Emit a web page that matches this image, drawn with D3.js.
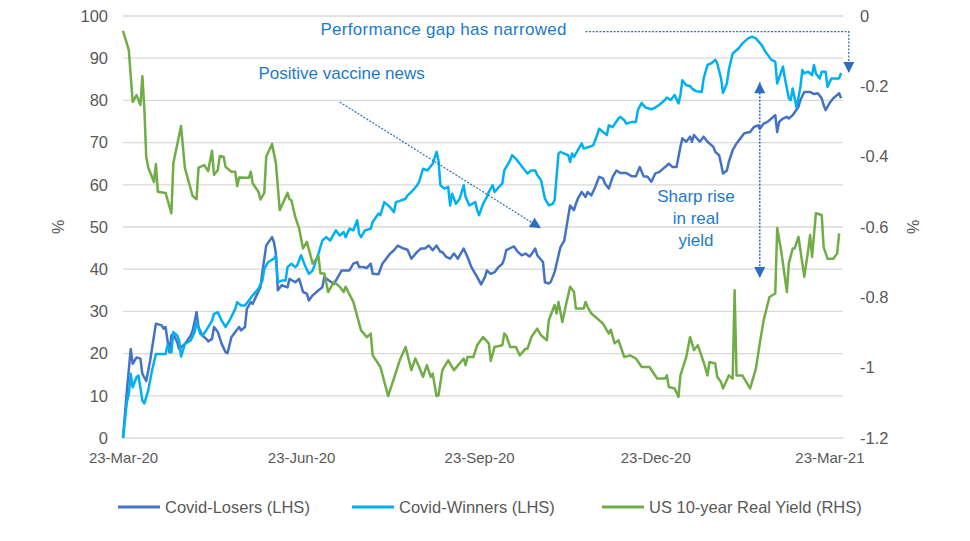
<!DOCTYPE html>
<html><head><meta charset="utf-8">
<script src="https://cdn.jsdelivr.net/npm/d3@7/dist/d3.min.js"></script>
<style>
html,body{margin:0;padding:0;background:#fff;}
svg{display:block;font-family:"Liberation Sans",Arial,sans-serif;}
</style></head>
<body>
<svg id="chart" width="970" height="541"></svg>
<script>
// ---- DATA (x = days since 23-Mar-20) ----
const startDate = "2020-03-23";
const xTickLabels = ["23-Mar-20","23-Jun-20","23-Sep-20","23-Dec-20","23-Mar-21"];
const leftTicks = [0,10,20,30,40,50,60,70,80,90,100];
const rightTicks = [-1.2,-1,-0.8,-0.6,-0.4,-0.2,0];
const seriesNames = ["Covid-Losers (LHS)","Covid-Winners (LHS)","US 10-year Real Yield (RHS)"];

const covidLosers = [[0,0],[2,11.2],[4,21.1],[5,17.6],[7,19.1],[9,18.8],[10,15.2],[12,13.5],[14,18.3],[17,27.1],[20,26.7],[21,25.9],[22,26.3],[23,23.1],[24,20.3],[25,24.3],[26,24.7],[28,22.7],[29,21.1],[32,22.3],[35,24.3],[36,25.5],[38,29.8],[39,26.3],[41,24.3],[43,23.5],[44,22.9],[46,23.5],[47,26.3],[49,25.1],[51,22.3],[53,20.3],[54,20.1],[56,23.9],[58,25.1],[60,26.3],[61,25.5],[63,26.3],[64,30.6],[66,32.2],[67,31.8],[69,33.8],[71,35.7],[72,39.3],[74,45.6],[77,47.6],[78,46.4],[79,43.7],[80,35.0],[82,36.2],[85,35.7],[86,37.7],[89,36.9],[91,37.7],[92,36.2],[93,34.6],[95,34.2],[96,32.6],[98,33.8],[101,35.0],[103,35.7],[104,38.1],[109,36.5],[113,39.7],[117,39.7],[119,41.3],[121,41.7],[122,40.5],[124,40.5],[126,40.3],[128,41.3],[129,38.9],[132,38.8],[134,41.3],[136,42.5],[138,43.7],[140,44.5],[142,45.6],[145,44.9],[147,44.6],[149,42.5],[152,44.1],[154,44.9],[156,44.9],[158,45.6],[160,44.5],[162,45.6],[164,44.1],[165,44.1],[167,42.9],[169,42.5],[171,43.7],[173,42.5],[176,44.9],[178,42.9],[180,40.5],[183,38.1],[185,36.4],[187,38.1],[188,39.7],[190,38.9],[192,39.3],[194,40.5],[196,41.3],[197,42.5],[198,44.5],[201,45.2],[202,45.4],[204,44.1],[206,43.3],[208,43.7],[210,43.0],[211,43.5],[213,44.9],[214,43.3],[217,41.7],[218,36.9],[220,36.6],[221,37.0],[223,39.3],[224,41.3],[226,45.2],[227,46.0],[228,46.8],[230,52.4],[231,55.1],[233,54.0],[234,55.5],[235,56.7],[237,58.3],[239,57.1],[240,58.3],[242,57.5],[244,59.5],[246,61.9],[248,61.5],[249,60.3],[251,59.1],[253,61.9],[255,63.4],[257,62.8],[260,62.8],[263,62.0],[265,62.0],[267,64.2],[269,62.0],[271,61.9],[273,60.7],[275,62.7],[277,63.0],[280,64.2],[282,65.0],[284,64.2],[286,64.2],[288,69.0],[289,71.0],[291,70.2],[293,71.4],[294,70.2],[295,71.8],[298,70.2],[300,71.4],[302,70.2],[305,69.0],[306,67.8],[308,67.0],[309,65.0],[310,62.7],[312,63.4],[313,65.4],[315,68.2],[317,69.8],[319,71.0],[321,72.2],[324,72.5],[326,73.7],[328,74.1],[329,73.3],[331,74.5],[333,74.9],[335,75.7],[337,76.5],[338,72.5],[339,74.9],[341,75.7],[343,76.1],[344,75.7],[346,76.5],[349,78.5],[350,80.1],[352,82.0],[355,82.0],[357,81.5],[359,81.7],[361,80.5],[362,78.9],[363,77.7],[365,79.3],[367,80.5],[368,80.9],[370,81.7],[371,80.5]];

const covidWinners = [[0,0],[2,8.5],[3,10.4],[4,15.2],[5,12.0],[7,14.4],[8,14.8],[10,8.9],[11,8.2],[13,11.2],[15,16.0],[17,19.9],[22,19.9],[23,21.9],[25,20.3],[26,25.1],[28,24.3],[29,23.1],[30,19.3],[32,22.3],[35,23.1],[37,25.1],[38,27.4],[40,24.7],[41,24.3],[43,25.5],[46,27.8],[47,29.4],[49,29.8],[51,27.8],[53,26.3],[55,27.8],[58,30.6],[59,32.2],[61,31.4],[63,31.4],[65,32.6],[67,33.8],[70,35.4],[72,37.3],[73,40.1],[75,41.7],[78,42.5],[79,43.3],[80,36.9],[82,37.3],[84,37.3],[85,40.5],[87,41.3],[89,40.5],[90,40.9],[92,43.3],[94,40.9],[96,38.9],[98,39.7],[101,43.7],[103,46.8],[105,47.6],[107,46.8],[110,49.2],[112,48.0],[114,48.8],[115,47.6],[117,49.6],[119,49.2],[121,51.6],[122,48.4],[123,47.6],[125,49.2],[128,49.6],[129,51.2],[132,53.2],[133,52.8],[135,55.9],[138,54.7],[140,53.5],[141,55.9],[143,56.2],[146,56.7],[147,57.5],[149,58.3],[152,59.9],[153,60.7],[155,63.8],[157,63.4],[158,63.8],[160,65.0],[162,67.8],[163,65.8],[164,59.9],[166,59.1],[168,59.5],[169,55.1],[170,57.9],[172,55.5],[174,56.7],[176,59.9],[177,57.1],[179,55.1],[182,55.9],[183,54.0],[184,52.8],[186,55.5],[188,57.1],[189,58.3],[191,59.9],[192,58.3],[195,59.9],[196,60.3],[197,63.4],[200,65.8],[201,67.0],[203,66.2],[205,65.0],[207,63.8],[209,62.7],[211,63.4],[213,63.4],[214,62.3],[216,61.1],[218,56.7],[220,55.1],[222,55.5],[223,56.3],[225,67.4],[226,67.8],[228,67.4],[230,67.0],[231,65.4],[232,67.4],[233,66.6],[235,68.2],[237,69.8],[238,68.6],[241,69.0],[243,69.4],[245,71.8],[246,73.3],[248,72.5],[250,71.8],[251,74.1],[253,73.7],[256,75.7],[257,76.1],[259,75.3],[260,74.5],[263,74.9],[265,74.9],[266,77.7],[268,79.4],[270,78.3],[273,77.9],[275,78.3],[277,78.9],[280,80.1],[281,80.7],[283,80.1],[285,81.3],[287,79.3],[288,81.3],[289,84.8],[291,83.6],[293,83.4],[294,82.8],[296,82.2],[299,82.0],[300,85.2],[302,88.4],[304,88.8],[306,89.6],[307,88.8],[309,85.2],[310,81.8],[312,84.0],[313,87.2],[315,91.1],[318,92.3],[320,93.5],[323,94.7],[325,95.1],[327,94.7],[330,93.1],[332,91.5],[335,89.6],[337,89.2],[338,84.0],[341,88.0],[342,85.2],[344,80.5],[345,80.1],[346,82.8],[348,78.3],[350,83.2],[351,87.2],[352,86.4],[354,86.8],[356,86.0],[357,88.4],[358,86.4],[360,85.2],[361,86.8],[363,86.8],[364,83.2],[366,85.2],[368,85.2],[370,85.2],[371,86.5]];

const realYield = [[0,-0.042],[3,-0.097],[5,-0.244],[7,-0.225],[9,-0.253],[10,-0.171],[11,-0.259],[12,-0.400],[13,-0.430],[16,-0.472],[17,-0.421],[18,-0.500],[22,-0.503],[25,-0.561],[26,-0.419],[30,-0.313],[32,-0.433],[36,-0.512],[38,-0.521],[39,-0.431],[42,-0.424],[44,-0.441],[46,-0.383],[47,-0.452],[49,-0.438],[50,-0.398],[52,-0.400],[53,-0.429],[56,-0.443],[58,-0.443],[59,-0.484],[60,-0.459],[65,-0.460],[66,-0.443],[67,-0.476],[70,-0.500],[71,-0.522],[73,-0.503],[74,-0.400],[77,-0.364],[79,-0.419],[81,-0.552],[85,-0.503],[86,-0.521],[87,-0.524],[89,-0.571],[91,-0.604],[93,-0.661],[95,-0.642],[98,-0.704],[101,-0.683],[102,-0.732],[104,-0.732],[106,-0.785],[109,-0.756],[112,-0.770],[114,-0.785],[115,-0.770],[119,-0.813],[123,-0.894],[126,-0.913],[128,-0.903],[129,-0.965],[133,-0.998],[137,-1.081],[143,-0.979],[146,-0.941],[149,-1.007],[151,-0.974],[153,-0.998],[155,-1.026],[157,-0.993],[159,-1.026],[160,-1.017],[162,-1.081],[163,-1.079],[165,-1.007],[168,-0.979],[171,-1.007],[176,-0.974],[177,-0.993],[178,-0.970],[181,-0.970],[183,-0.936],[186,-0.913],[189,-0.931],[190,-0.981],[192,-0.941],[196,-0.936],[197,-0.903],[198,-0.908],[200,-0.941],[203,-0.941],[205,-0.965],[208,-0.946],[209,-0.946],[211,-0.913],[214,-0.889],[216,-0.908],[219,-0.922],[220,-0.865],[223,-0.822],[224,-0.846],[225,-0.813],[227,-0.870],[229,-0.818],[231,-0.770],[233,-0.785],[234,-0.832],[238,-0.832],[239,-0.813],[240,-0.827],[242,-0.846],[245,-0.860],[248,-0.875],[251,-0.903],[252,-0.892],[254,-0.931],[256,-0.922],[259,-0.970],[262,-0.965],[265,-0.974],[268,-0.998],[272,-0.998],[276,-1.031],[280,-1.031],[281,-1.022],[282,-1.055],[285,-1.059],[287,-1.083],[288,-1.022],[291,-0.970],[293,-0.913],[295,-0.950],[297,-0.936],[300,-0.984],[302,-1.022],[303,-0.984],[306,-0.988],[307,-1.026],[309,-1.041],[310,-1.059],[313,-1.022],[315,-1.031],[316,-0.780],[317,-1.022],[320,-1.022],[324,-1.059],[327,-1.003],[329,-0.931],[331,-0.865],[334,-0.799],[337,-0.789],[338,-0.603],[340,-0.666],[341,-0.704],[343,-0.785],[344,-0.704],[346,-0.661],[347,-0.661],[349,-0.628],[350,-0.666],[352,-0.742],[354,-0.666],[355,-0.623],[356,-0.685],[358,-0.561],[361,-0.566],[362,-0.657],[364,-0.690],[367,-0.690],[369,-0.675],[370,-0.618]];

// annotation texts
const annoTexts = ["Performance gap has narrowed","Positive vaccine news",["Sharp rise","in real","yield"]];

// ---- CHART ----
const svg = d3.select("#chart");
const W = 970, H = 541;
const m = {left:123, right:127, top:16, bottom:103};
const x0 = m.left, x1 = W - m.right, y0 = m.top, y1 = H - m.bottom;
const parse = d3.timeParse("%Y-%m-%d");
const t0 = parse(startDate);
const dayToDate = d => d3.timeDay.offset(t0, d);
const x = d3.scaleTime().domain([t0, d3.timeDay.offset(t0, 372)]).range([x0, x1]);
const yL = d3.scaleLinear().domain([0,100]).range([y1, y0]);
const yR = d3.scaleLinear().domain([-1.2,0]).range([y1, y0]);

const gray = "#595959";
const colors = ["#4472C4","#00B0F0","#70AD47"];
const annoTextColor = "#1C7ACB";
const annoLineColor = "#2A6DC0";
const FONT = '"Liberation Sans",Arial,sans-serif';

svg.append("rect").attr("width",W).attr("height",H).attr("fill","#fff");

// gridlines
svg.append("g").selectAll("line").data(leftTicks).join("line")
  .attr("x1",x0).attr("x2",x1)
  .attr("y1",d=>yL(d)).attr("y2",d=>yL(d))
  .attr("stroke","#d9d9d9").attr("stroke-width",1.3);

// left axis
const axL = d3.axisLeft(yL).tickValues(leftTicks).tickSize(0).tickPadding(15).tickFormat(d3.format("d"));
const gL = svg.append("g").attr("transform",`translate(${x0},0)`).call(axL);
gL.select(".domain").remove();
gL.selectAll("text").attr("fill",gray).style("font-size","16.5px").style("font-family",FONT);

// right axis
const axR = d3.axisRight(yR).tickValues(rightTicks).tickSize(0).tickPadding(17).tickFormat(d=>String(+d.toFixed(1)));
const gR = svg.append("g").attr("transform",`translate(${x1},0)`).call(axR);
gR.select(".domain").remove();
gR.selectAll("text").attr("fill",gray).style("font-size","16.5px").style("font-family",FONT);

// bottom axis
const xTickDates = xTickLabels.map(s => d3.timeParse("%d-%b-%y")(s));
const axB = d3.axisBottom(x).tickValues(xTickDates).tickSize(0).tickPadding(14).tickFormat(d3.timeFormat("%d-%b-%y"));
const gB = svg.append("g").attr("transform",`translate(0,${y1})`).call(axB);
gB.select(".domain").remove();
gB.selectAll("text").attr("fill",gray).style("font-size","15px").style("font-family",FONT);

// axis titles
svg.append("text").attr("transform",`translate(64,${(y0+y1)/2}) rotate(-90)`)
  .attr("text-anchor","middle").attr("fill",gray).style("font-size","16px").text("%");
svg.append("text").attr("transform",`translate(919,${(y0+y1)/2}) rotate(-90)`)
  .attr("text-anchor","middle").attr("fill",gray).style("font-size","16px").text("%");

// lines
const lineL = d3.line().x(d=>x(dayToDate(d[0]))).y(d=>yL(d[1]));
const lineR = d3.line().x(d=>x(dayToDate(d[0]))).y(d=>yR(d[1]));
svg.append("path").datum(covidLosers).attr("d",lineL).attr("fill","none").attr("stroke",colors[0]).attr("stroke-width",2.5).attr("stroke-linejoin","round");
svg.append("path").datum(covidWinners).attr("d",lineL).attr("fill","none").attr("stroke",colors[1]).attr("stroke-width",2.5).attr("stroke-linejoin","round");
svg.append("path").datum(realYield).attr("d",lineR).attr("fill","none").attr("stroke",colors[2]).attr("stroke-width",2.5).attr("stroke-linejoin","round");

// arrow markers
const defs = svg.append("defs");
defs.append("marker").attr("id","ah").attr("viewBox","0 0 10 10").attr("refX",10).attr("refY",5)
  .attr("markerUnits","userSpaceOnUse").attr("markerWidth",13).attr("markerHeight",11).attr("orient","auto-start-reverse")
  .append("path").attr("d","M0,0L10,5L0,10Z").attr("fill",annoLineColor);

const P = (d,v) => [x(dayToDate(d)), yL(v)];

// vaccine arrow
{
  const a = P(112.6,79.6), b = P(216,49.7);
  svg.append("line").attr("x1",a[0]).attr("y1",a[1]).attr("x2",b[0]).attr("y2",b[1])
    .attr("stroke",annoLineColor).attr("stroke-width",1.2).attr("stroke-dasharray","2,1.5").attr("marker-end","url(#ah)");
}
// performance gap connector
{
  const a = P(239.2,96.3), b = P(375.3,96.3), c = P(375.3,86.5);
  svg.append("path").attr("d",`M${a[0]},${a[1]}L${b[0]},${b[1]}L${c[0]},${c[1]}`)
    .attr("fill","none").attr("stroke",annoLineColor).attr("stroke-width",1.2).attr("stroke-dasharray","2,1.5").attr("marker-end","url(#ah)");
}
// sharp rise double arrow
{
  const a = P(329.2,84.3), b = P(329.2,37.9);
  svg.append("line").attr("x1",a[0]).attr("y1",a[1]).attr("x2",b[0]).attr("y2",b[1])
    .attr("stroke",annoLineColor).attr("stroke-width",1.5).attr("stroke-dasharray","2,1.5")
    .attr("marker-start","url(#ah)").attr("marker-end","url(#ah)");
}
// annotation texts
{
  const p1 = P(102.3,95.4);
  svg.append("text").attr("x",p1[0]).attr("y",p1[1]).attr("fill",annoTextColor).style("font-size","17px")
    .attr("textLength",246).attr("lengthAdjust","spacing").text(annoTexts[0]);
  const p2 = P(70.8,85.1);
  svg.append("text").attr("x",p2[0]).attr("y",p2[1]).attr("fill",annoTextColor).style("font-size","17px").text(annoTexts[1]);
  const p3 = P(296.6,55.9);
  const t = svg.append("text").attr("x",p3[0]).attr("y",p3[1]).attr("fill",annoTextColor).style("font-size","17px").attr("text-anchor","middle");
  annoTexts[2].forEach((s,i)=> t.append("tspan").attr("x",p3[0]).attr("dy", i===0?0:22).text(s));
}

// legend
const legX = [118, 352, 602];
const legY = 507;
const lg = svg.append("g");
seriesNames.forEach((n,i)=>{
  lg.append("line").attr("x1",legX[i]).attr("x2",legX[i]+42).attr("y1",legY).attr("y2",legY)
    .attr("stroke",colors[i]).attr("stroke-width",2.8);
  lg.append("text").attr("x",legX[i]+47).attr("y",legY+6).attr("fill",gray).style("font-size","16.5px").text(n);
});
</script>
</body></html>
